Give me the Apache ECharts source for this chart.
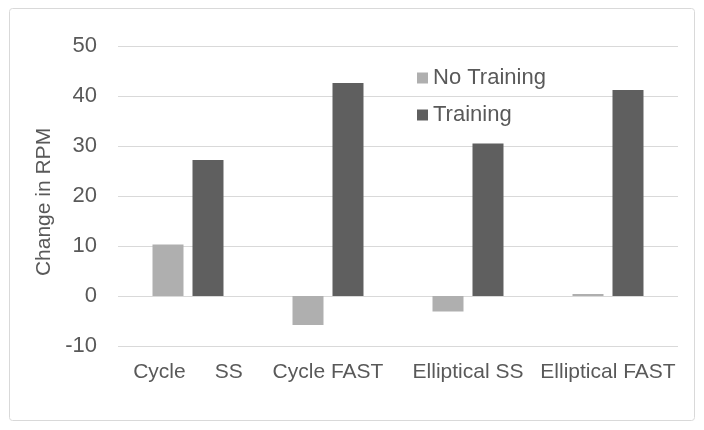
<!DOCTYPE html>
<html>
<head>
<meta charset="utf-8">
<script src="https://cdn.jsdelivr.net/npm/echarts@6/dist/echarts.min.js"></script>
<style>
html,body{margin:0;padding:0;background:#fff;}
#chart{width:704px;height:430px;}
</style>
</head>
<body>
<div id="chart"></div>
<script>
var categories = ["Cycle     SS", "Cycle FAST", "Elliptical SS", "Elliptical FAST"];
var noTraining = [10.3, -5.8, -3.1, 0.4];
var training = [27.2, 42.6, 30.5, 41.2];
var yTicks = {min: -10, max: 50, interval: 10};

var chart = echarts.init(document.getElementById('chart'));
var font = '"Liberation Sans", Arial, sans-serif';
var txt = '#595959';
chart.setOption({
  animation: false,
  graphic: [{
    type: 'rect',
    shape: {x: 9.5, y: 8.5, width: 685, height: 412, r: 3},
    style: {fill: 'none', stroke: '#d9d9d9', lineWidth: 1},
    silent: true
  }],
  grid: {left: 118, right: 26, top: 46, bottom: 84},
  legend: {
    orient: 'vertical',
    left: 417,
    top: 66,
    padding: 0,
    itemWidth: 11,
    itemHeight: 11,
    itemGap: 13,
    icon: 'rect',
    textStyle: {fontFamily: font, fontSize: 22, color: txt, lineHeight: 24},
    data: ['No Training', 'Training']
  },
  xAxis: {
    type: 'category',
    data: categories,
    axisLine: {show: false},
    axisTick: {show: false},
    axisLabel: {fontFamily: font, fontSize: 21, color: txt, margin: 16, interval: 0}
  },
  yAxis: {
    type: 'value',
    min: yTicks.min,
    max: yTicks.max,
    interval: yTicks.interval,
    name: 'Change in RPM',
    nameLocation: 'middle',
    nameGap: 58,
    nameTextStyle: {fontFamily: font, fontSize: 21, color: txt, padding: [0, 12, 0, 0]},
    axisLine: {show: false},
    axisTick: {show: false},
    axisLabel: {fontFamily: font, fontSize: 22, color: txt, margin: 21},
    splitLine: {lineStyle: {color: '#d9d9d9', width: 1}}
  },
  series: [{
    name: 'No Training',
    type: 'bar',
    data: noTraining,
    barWidth: 31,
    barGap: '29%',
    itemStyle: {color: '#afafaf'}
  }, {
    name: 'Training',
    type: 'bar',
    data: training,
    barWidth: 31,
    itemStyle: {color: '#5f5f5f'}
  }]
});
</script>
</body>
</html>
